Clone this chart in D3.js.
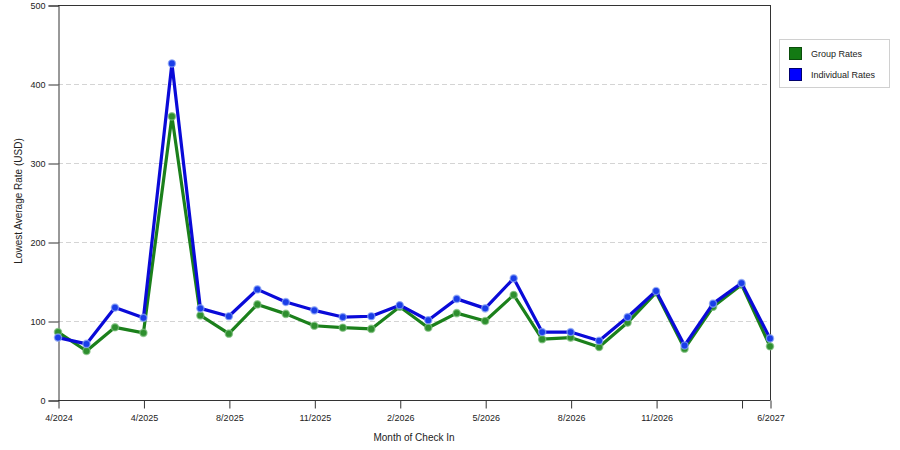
<!DOCTYPE html>
<html>
<head>
<meta charset="utf-8">
<script src="https://cdn.jsdelivr.net/npm/d3@7"></script>
<style>
  html, body { margin: 0; padding: 0; background: #fff; }
  svg { display: block; font-family: "Liberation Sans", Arial, sans-serif; }
</style>
</head>
<body>
<svg id="chart" width="900" height="450"></svg>
<script>
// ---- data ----
const categories = ["4/2024","2/2025","3/2025","4/2025","5/2025","6/2025","8/2025","9/2025","10/2025","11/2025","12/2025","1/2026","2/2026","3/2026","4/2026","5/2026","6/2026","7/2026","8/2026","9/2026","10/2026","11/2026","12/2026","1/2027","2/2027","6/2027"];
const groupRates      = [86, 62, 92, 85, 359, 107, 84, 121, 109, 94, 91.5, 90, 118, 91.5, 110, 100, 133, 77, 79, 67, 98, 136, 65, 118, 146, 68];
const individualRates = [79, 71, 117, 104, 426, 116, 106, 140, 124, 113.5, 105, 106, 120, 101, 128, 116, 154, 86, 86, 75, 105, 138, 69, 122, 148, 78];
const tickIndices = [0, 3, 6, 9, 12, 15, 18, 21, 24, 25];
const tickLabels  = ["4/2024","4/2025","8/2025","11/2025","2/2026","5/2026","8/2026","11/2026","","6/2027"];
const yTicks = [0, 100, 200, 300, 400, 500];
const seriesNames = ["Group Rates", "Individual Rates"];

(function () {
// ---- layout ----
const svg = d3.select("#chart");
const pLeft = 58, pRight = 770, pTop = 5, pBottom = 400;

const x = d3.scalePoint().domain(d3.range(categories.length)).range([pLeft, pRight]);
const y = d3.scaleLinear().domain([0, 500]).range([pBottom, pTop]);

// gridlines
svg.append("g").selectAll("line")
  .data(yTicks.filter(v => v > 0 && v < 500))
  .join("line")
  .attr("x1", pLeft).attr("x2", pRight)
  .attr("y1", d => y(d) + 0.5).attr("y2", d => y(d) + 0.5)
  .attr("stroke", "#d4d4d4").attr("stroke-width", 1)
  .attr("stroke-dasharray", "5,3");

// frame top & right
svg.append("line").attr("x1", pLeft).attr("x2", pRight + 0.5).attr("y1", pTop + 0.5).attr("y2", pTop + 0.5)
  .attr("stroke", "#333");
svg.append("line").attr("x1", pRight + 0.5).attr("x2", pRight + 0.5).attr("y1", pTop).attr("y2", pBottom)
  .attr("stroke", "#333");

// y axis
const yAxis = d3.axisLeft(y).tickValues(yTicks).tickSize(10).tickPadding(3).tickFormat(d3.format("d"));
const gy = svg.append("g").attr("transform", `translate(${pLeft + 0.5},0.5)`).call(yAxis);
gy.select(".domain").attr("stroke", "#333");
gy.selectAll(".tick line").attr("stroke", "#333");
gy.selectAll(".tick text").attr("font-size", 9).attr("fill", "#222")
  .attr("font-family", "Liberation Sans, Arial, sans-serif");

// x axis
const labelMap = new Map(tickIndices.map((i, k) => [i, tickLabels[k]]));
const xAxis = d3.axisBottom(x).tickValues(tickIndices).tickSize(8).tickPadding(6)
  .tickFormat(i => labelMap.get(i));
const gx = svg.append("g").attr("transform", `translate(0.5,${pBottom + 0.5})`).call(xAxis);
gx.select(".domain").attr("stroke", "#333").attr("d", `M${pLeft - 0.5},0H${pRight}`);
gx.selectAll(".tick line").attr("stroke", "#333");
gx.selectAll(".tick text").attr("font-size", 9).attr("fill", "#222")
  .attr("font-family", "Liberation Sans, Arial, sans-serif");

// axis titles
svg.append("text").attr("x", 414).attr("y", 441).attr("text-anchor", "middle")
  .attr("font-size", 10).attr("fill", "#222").text("Month of Check In");
svg.append("text").attr("transform", "translate(22,201) rotate(-90)").attr("text-anchor", "middle")
  .attr("font-size", 10).attr("fill", "#222").text("Lowest Average Rate (USD)");

// series
const series = [
  { name: seriesNames[0], values: groupRates, line: "#1b801b", dot: "#2e8f2e", halo: "#7fbf7f", swatch: "#137a13", swBorder: "#0b4d0b" },
  { name: seriesNames[1], values: individualRates, line: "#0a0ad8", dot: "#1a3ee8", halo: "#8fa8f5", swatch: "#0000ff", swBorder: "#00006e" }
];

const lineGen = d3.line().x((d, i) => x(i)).y(d => y(d));

series.forEach(s => {
  const g = svg.append("g");
  g.append("path").datum(s.values)
    .attr("d", lineGen).attr("fill", "none")
    .attr("stroke", s.line).attr("stroke-width", 3.2).attr("stroke-linejoin", "round");
  g.selectAll("circle").data(s.values).join("circle")
    .attr("cx", (d, i) => x(i)).attr("cy", d => y(d)).attr("r", 3.6)
    .attr("fill", s.dot).attr("stroke", s.halo).attr("stroke-opacity", 0.7).attr("stroke-width", 1.4);
});

// legend
const lg = svg.append("g");
lg.append("rect").attr("x", 779.5).attr("y", 39.5).attr("width", 110).attr("height", 48)
  .attr("fill", "#fff").attr("stroke", "#d0d0d0");
series.forEach((s, k) => {
  lg.append("rect").attr("x", 789.5).attr("y", 47.5 + k * 21).attr("width", 12).attr("height", 12)
    .attr("fill", s.swatch).attr("stroke", s.swBorder);
  lg.append("text").attr("x", 811).attr("y", 57 + k * 21)
    .attr("font-size", 9).attr("fill", "#222").text(s.name);
});
})();
</script>
</body>
</html>
